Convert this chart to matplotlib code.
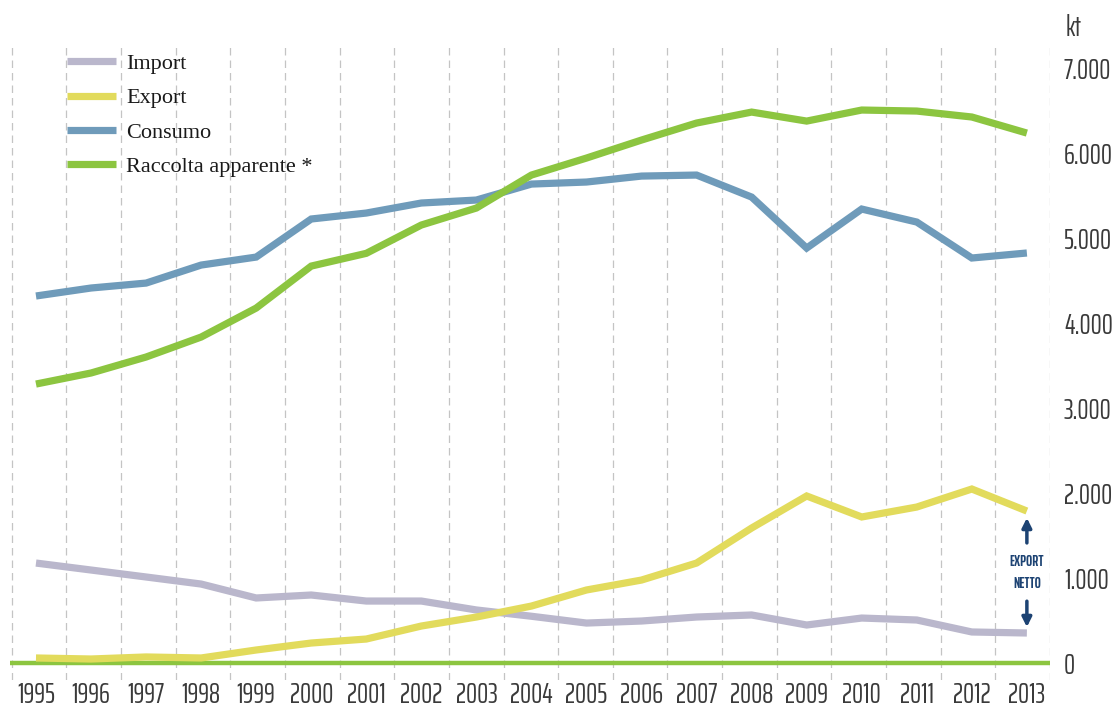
import matplotlib
matplotlib.use("Agg")
import matplotlib.pyplot as plt
from matplotlib.ticker import FuncFormatter

years = list(range(1995, 2014))

# kt
import_kt = [1176, 1094, 1012, 929, 765, 800, 729, 729, 624, 550,
             470, 494, 541, 565, 447, 529, 506, 365, 353]
export_kt = [59, 47, 71, 59, 153, 235, 282, 435, 541, 670,
             859, 976, 1176, 1588, 1965, 1718, 1835, 2047, 1788]
consumo_kt = [4318, 4412, 4470, 4682, 4776, 5224, 5294, 5412, 5447, 5635,
              5659, 5729, 5741, 5482, 4882, 5341, 5188, 4765, 4824]
raccolta_kt = [3282, 3412, 3600, 3835, 4176, 4670, 4820, 5153, 5353, 5741,
               5941, 6153, 6353, 6482, 6376, 6506, 6494, 6424, 6235]

series = [
    ("Import", import_kt, "#bab7cc"),
    ("Export", export_kt, "#e2db5c"),
    ("Consumo", consumo_kt, "#6f9bba"),
    ("Raccolta apparente *", raccolta_kt, "#8cc540"),
]
y_ticks = [0, 1000, 2000, 3000, 4000, 5000, 6000, 7000]

NARROW = ["Saira ExtraCondensed", "Roboto Condensed", "DejaVu Sans"]
SERIF = ["Liberation Serif", "DejaVu Serif"]
TXT = "#3a3a3a"
NAVY = "#1d4373"

fig = plt.figure(figsize=(11.19, 7.25), dpi=100)
ax = fig.add_axes([10 / 1119, 45 / 725, 1040 / 1119, 640 / 725])

# dashed vertical grid between the years
grid_x = [1994.56 + i * (2013.42 - 1994.56) / 19 for i in range(20)]
ax.vlines(grid_x, -200, 7270, colors="#c4c4c4", linestyles=(0, (6, 4)), lw=0.9, zorder=0)

ax.axhline(0, color="#8cc540", lw=3.2, zorder=1)

for label, vals, color in series:
    ax.plot(years, vals, color=color, lw=5.2, label=label,
            solid_capstyle="butt", solid_joinstyle="miter", zorder=3)

ax.set_xlim(1994.528, 2013.42)
ax.set_ylim(-200, 7330)

ax.set_xticks(years)
ax.set_xticklabels([str(y) for y in years], family=NARROW, fontsize=20, color=TXT)
ax.yaxis.tick_right()
ax.set_yticks(y_ticks)
ax.yaxis.set_major_formatter(FuncFormatter(lambda v, p: f"{int(v):,}".replace(",", ".")))
for t in ax.get_yticklabels():
    t.set_family(NARROW)
    t.set_fontsize(20)
    t.set_color(TXT)
ax.tick_params(axis="both", length=0)
ax.tick_params(axis="x", pad=1)
ax.tick_params(axis="y", pad=10)
for s in ax.spines.values():
    s.set_visible(False)

fig.text(1066 / 1119, 1 - 28 / 725, "kt", family=NARROW, fontsize=20, color=TXT, va="center")

leg = ax.legend(loc="upper left", bbox_to_anchor=(0.055, 0.979), frameon=False,
                prop={"family": SERIF, "size": 16}, handlelength=2.2, handletextpad=0.45,
                labelspacing=0.62, borderaxespad=0, borderpad=0)
for t in leg.get_texts():
    t.set_color("#1a1a1a")

# export netto annotation at 2013
ax.annotate("", xy=(2013, 1740), xytext=(2013, 1380),
            arrowprops=dict(arrowstyle="-|>", color=NAVY, lw=2.5, mutation_scale=14))
ax.annotate("", xy=(2013, 390), xytext=(2013, 760),
            arrowprops=dict(arrowstyle="-|>", color=NAVY, lw=2.5, mutation_scale=14))
ax.text(2013, 1060, "EXPORT\nNETTO", ha="center", va="center", family=NARROW,
        fontsize=10.5, fontweight="bold", color=NAVY, linespacing=1.8)

fig.savefig("out.png", dpi=100)
